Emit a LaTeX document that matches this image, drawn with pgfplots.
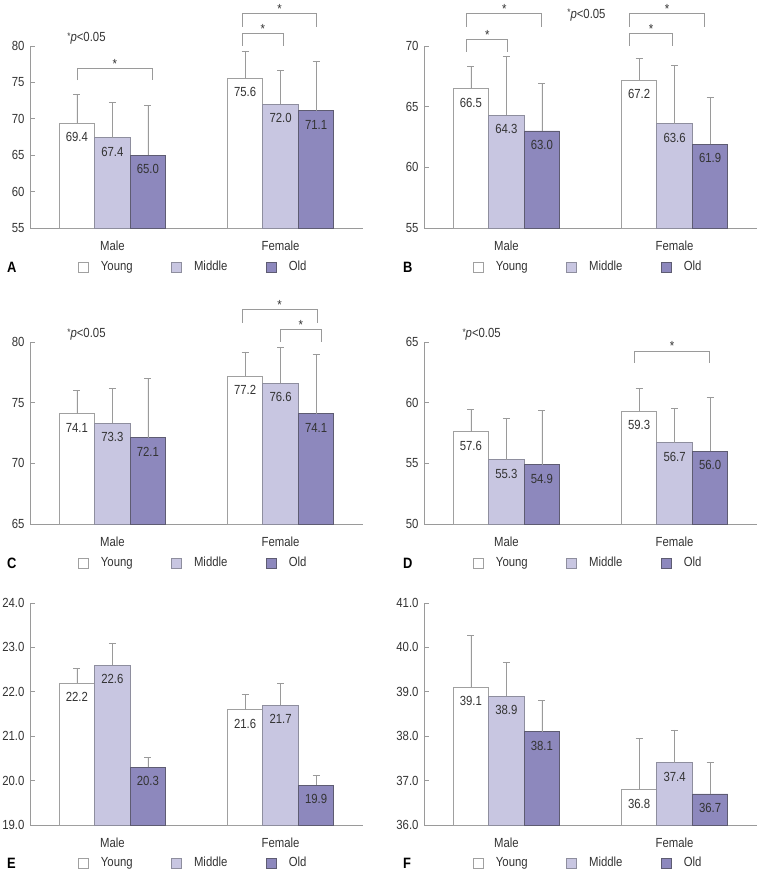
\documentclass[border=0pt]{standalone}
\usepackage{fontspec}
\setmainfont[FakeStretch=0.86]{Liberation Sans}
\usepackage{pgfplots}
\pgfplotsset{compat=1.18}

\definecolor{axisgray}{HTML}{9A9A9A}
\definecolor{txt}{HTML}{333333}
\definecolor{midfill}{HTML}{C8C6E1}
\definecolor{oldfill}{HTML}{8D88BD}
\definecolor{youngdraw}{HTML}{A0A0A0}
\definecolor{middraw}{HTML}{8E8E9E}
\definecolor{olddraw}{HTML}{5E5C72}

\pgfplotsset{
  panel/.style={
    scale only axis, width=333pt,
    axis lines*=left,
    axis line style={axisgray, line width=0.8pt},
    xmin=-0.49, xmax=1.49,
    xtick={0,1}, xticklabels={Male,Female},
    x tick style={draw=none},
    y tick style={axisgray, line width=0.8pt},
    major tick length=5pt, tick align=inside,
    xticklabel style={yshift=-4pt},
    yticklabel style={xshift=-2pt},
    every tick label/.append style={text=txt},
    /pgf/number format/assume math mode=true,
    ybar=0pt, bar width=35.5pt,
    clip=false,
    nodes near coords={\pgfmathprintnumber[fixed,fixed zerofill,precision=1]{\pgfplotspointmeta}},
    every node near coord/.append style={anchor=north, inner sep=0pt, yshift=-9pt, text=txt},
    error bars/y dir=plus, error bars/y explicit,
    error bars/error bar style={axisgray, line width=0.8pt},
    error bars/error mark options={rotate=90, mark size=3.5pt, axisgray, line width=0.8pt},
    legend columns=3,
    legend image code/.code={\draw[#1, line width=0.8pt] (0pt,-5pt) rectangle (10pt,5pt);},
    legend style={draw=none, fill=none, anchor=west, inner sep=0pt, text=txt,
      /tikz/every odd column/.append style={column sep=10pt},
      /tikz/every even column/.append style={column sep=36.5pt}},
  },
  young/.style={fill=white, draw=youngdraw, line width=0.8pt},
  middle/.style={fill=midfill, draw=middraw, line width=0.8pt},
  old/.style={fill=oldfill, draw=olddraw, line width=0.8pt},
}
\tikzset{brk/.style={axisgray, line width=0.8pt}}

\newcommand{\pnote}{{\fontsize{9.5}{10}\selectfont\raisebox{2.5pt}{*}}\textit{p}<0.05}
\newcommand{\letter}[1]{{\bfseries\fontsize{15}{17}\selectfont #1}}

\begin{document}
\begin{tikzpicture}[font=\fontsize{13.2}{15}\selectfont]
\useasboundingbox (0,0) rectangle (761pt,874pt);

% A
\begin{axis}[panel, at={(30pt,646pt)}, anchor=south west, height=182pt,
  ymin=55, ymax=80, ytick={55,60,65,70,75,80},
  legend style={at={(axis description cs:0.144,-0.214)}}]
\addplot[young] coordinates {(0,69.4) +- (0,4.0) (1,75.6) +- (0,3.7)};
\addplot[middle] coordinates {(0,67.4) +- (0,4.9) (1,72.0) +- (0,4.7)};
\addplot[old] coordinates {(0,65.0) +- (0,6.8) (1,71.1) +- (0,6.75)};
\legend{Young, Middle, Old}
\draw[brk] (-0.21,75.3) -- (-0.21,76.9) -- (0.239,76.9) -- (0.239,75.3);
\node[anchor=base, inner sep=0pt, text=txt] at (0.014,76.9) {*};
\draw[brk] (0.773,80.05) -- (0.773,81.7) -- (1.017,81.7) -- (1.017,80.05);
\node[anchor=base, inner sep=0pt, text=txt] at (0.895,81.7) {*};
\draw[brk] (0.773,82.65) -- (0.773,84.5) -- (1.215,84.5) -- (1.215,82.65);
\node[anchor=base, inner sep=0pt, text=txt] at (0.994,84.5) {*};
\node[anchor=west, inner sep=0pt, text=txt] at (-0.269,81.05) {\pnote};
\node[anchor=west, inner sep=0pt] at (axis description cs:-0.069,-0.214) {\letter{A}};
\end{axis}

% B
\begin{axis}[panel, at={(424pt,646pt)}, anchor=south west, height=182pt,
  ymin=55, ymax=70, ytick={55,60,65,70},
  legend style={at={(axis description cs:0.147,-0.214)}}]
\addplot[young] coordinates {(0,66.5) +- (0,1.83) (1,67.2) +- (0,1.79)};
\addplot[middle] coordinates {(0,64.3) +- (0,4.82) (1,63.6) +- (0,4.78)};
\addplot[old] coordinates {(0,63.0) +- (0,3.93) (1,61.9) +- (0,3.88)};
\legend{Young, Middle, Old}
\draw[brk] (-0.235,69.53) -- (-0.235,70.55) -- (0.008,70.55) -- (0.008,69.53);
\node[anchor=base, inner sep=0pt, text=txt] at (-0.113,70.55) {*};
\draw[brk] (-0.235,71.59) -- (-0.235,72.69) -- (0.209,72.69) -- (0.209,71.59);
\node[anchor=base, inner sep=0pt, text=txt] at (-0.013,72.69) {*};
\draw[brk] (0.734,70.03) -- (0.734,71.04) -- (0.985,71.04) -- (0.985,70.03);
\node[anchor=base, inner sep=0pt, text=txt] at (0.86,71.04) {*};
\draw[brk] (0.734,71.59) -- (0.734,72.69) -- (1.178,72.69) -- (1.178,71.59);
\node[anchor=base, inner sep=0pt, text=txt] at (0.956,72.69) {*};
\node[anchor=west, inner sep=0pt, text=txt] at (0.361,72.55) {\pnote};
\node[anchor=west, inner sep=0pt] at (axis description cs:-0.063,-0.214) {\letter{B}};
\end{axis}

% C
\begin{axis}[panel, at={(30pt,350pt)}, anchor=south west, height=182pt,
  ymin=65, ymax=80, ytick={65,70,75,80},
  legend style={at={(axis description cs:0.144,-0.214)}}]
\addplot[young] coordinates {(0,74.1) +- (0,1.93) (1,77.2) +- (0,1.98)};
\addplot[middle] coordinates {(0,73.3) +- (0,2.87) (1,76.6) +- (0,2.93)};
\addplot[old] coordinates {(0,72.1) +- (0,4.89) (1,74.1) +- (0,4.86)};
\legend{Young, Middle, Old}
\draw[brk] (0.77,81.59) -- (0.77,82.66) -- (1.218,82.66) -- (1.218,81.59);
\node[anchor=base, inner sep=0pt, text=txt] at (0.994,82.66) {*};
\draw[brk] (0.997,80.0) -- (0.997,81.01) -- (1.245,81.01) -- (1.245,80.0);
\node[anchor=base, inner sep=0pt, text=txt] at (1.121,81.01) {*};
\node[anchor=west, inner sep=0pt, text=txt] at (-0.269,80.6) {\pnote};
\node[anchor=west, inner sep=0pt] at (axis description cs:-0.069,-0.214) {\letter{C}};
\end{axis}

% D
\begin{axis}[panel, at={(424pt,350pt)}, anchor=south west, height=182pt,
  ymin=50, ymax=65, ytick={50,55,60,65},
  legend style={at={(axis description cs:0.147,-0.214)}}]
\addplot[young] coordinates {(0,57.6) +- (0,1.87) (1,59.3) +- (0,1.87)};
\addplot[middle] coordinates {(0,55.3) +- (0,3.43) (1,56.7) +- (0,2.83)};
\addplot[old] coordinates {(0,54.9) +- (0,4.49) (1,56.0) +- (0,4.40)};
\legend{Young, Middle, Old}
\draw[brk] (0.763,63.28) -- (0.763,64.26) -- (1.207,64.26) -- (1.207,63.28);
\node[anchor=base, inner sep=0pt, text=txt] at (0.985,64.26) {*};
\node[anchor=west, inner sep=0pt, text=txt] at (-0.262,65.6) {\pnote};
\node[anchor=west, inner sep=0pt] at (axis description cs:-0.063,-0.214) {\letter{D}};
\end{axis}

% E
\begin{axis}[panel, at={(30pt,49pt)}, anchor=south west, height=222pt,
  ymin=19, ymax=24, ytick={19,20,21,22,23,24},
  yticklabel style={/pgf/number format/.cd, fixed, fixed zerofill, precision=1},
  legend style={at={(axis description cs:0.144,-0.171)}}]
\addplot[young] coordinates {(0,22.2) +- (0,0.33) (1,21.6) +- (0,0.35)};
\addplot[middle] coordinates {(0,22.6) +- (0,0.50) (1,21.7) +- (0,0.48)};
\addplot[old] coordinates {(0,20.3) +- (0,0.23) (1,19.9) +- (0,0.22)};
\legend{Young, Middle, Old}
\node[anchor=west, inner sep=0pt] at (axis description cs:-0.069,-0.171) {\letter{E}};
\end{axis}

% F
\begin{axis}[panel, at={(424pt,49pt)}, anchor=south west, height=222pt,
  ymin=36, ymax=41, ytick={36,37,38,39,40,41},
  yticklabel style={/pgf/number format/.cd, fixed, fixed zerofill, precision=1},
  legend style={at={(axis description cs:0.147,-0.171)}}]
\addplot[young] coordinates {(0,39.1) +- (0,1.17) (1,36.8) +- (0,1.15)};
\addplot[middle] coordinates {(0,38.9) +- (0,0.77) (1,37.4) +- (0,0.74)};
\addplot[old] coordinates {(0,38.1) +- (0,0.70) (1,36.7) +- (0,0.71)};
\legend{Young, Middle, Old}
\node[anchor=west, inner sep=0pt] at (axis description cs:-0.063,-0.171) {\letter{F}};
\end{axis}

\end{tikzpicture}
\end{document}
